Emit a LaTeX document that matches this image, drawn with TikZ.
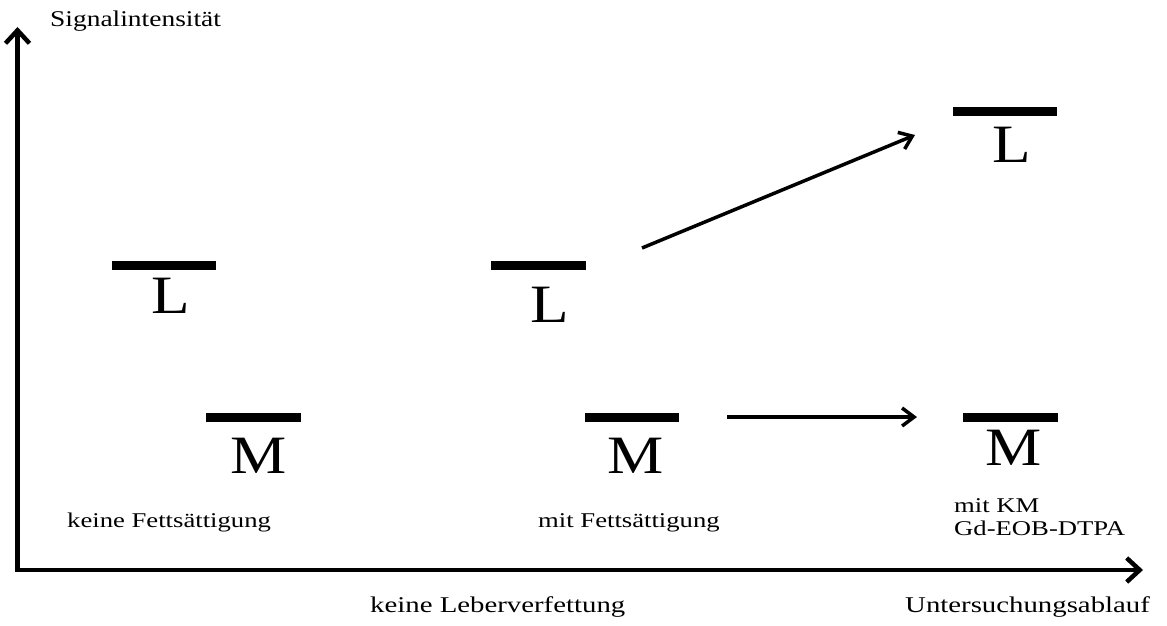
\documentclass[tikz,border=0pt]{standalone}
\usepackage{fontspec}
\setmainfont{Liberation Serif}
\usetikzlibrary{arrows.meta}
\newcommand{\wide}[2]{\scalebox{#1}[1]{#2}}
\begin{document}
\begin{tikzpicture}[x=1pt,y=-1pt,
  axis/.style={line width=4.5pt, line join=miter,
    {Straight Barb[length=13pt,width=24pt]}-{Straight Barb[length=13pt,width=24pt]}},
  conn/.style={line width=3.5pt, -{Straight Barb[length=12pt,width=18pt]}},
  bar/.style={fill=black, inner sep=0pt, minimum height=9pt},
  big/.style={font=\fontsize{54}{60}\selectfont, inner sep=0pt, anchor=base},
  small/.style={font=\fontsize{21}{24}\selectfont, inner sep=0pt, anchor=base west},
  axlabel/.style={font=\fontsize{22.5}{26}\selectfont, inner sep=0pt, anchor=base west}]
\useasboundingbox (0,0) rectangle (1167,625);
% axes
\coordinate (ytop) at (17.5,27);
\coordinate (origin) at (17.5,570);
\coordinate (xend) at (1143,570);
\draw[axis] (ytop) -- (origin) -- (xend);
\node[axlabel] (ylab) at (50,26) {\wide{1.22}{Signalintensität}};
\node[axlabel] (xlab1) at (370,612) {\wide{1.28}{keine Leberverfettung}};
\node[axlabel] (xlab2) at (905,612) {\wide{1.28}{Untersuchungsablauf}};
% bars
\node[bar, minimum width=104pt] (barL1) at (164,265) {};
\node[bar, minimum width=95pt] (barM1) at (253.5,417) {};
\node[bar, minimum width=95pt] (barL2) at (538.5,265) {};
\node[bar, minimum width=94pt] (barM2) at (632,417) {};
\node[bar, minimum width=104pt] (barL3) at (1005,111.5) {};
\node[bar, minimum width=95pt] (barM3) at (1010.5,417) {};
% letters
\node[big] (L1) at (171,313) {\wide{1.17}{L}};
\node[big] (M1) at (259,473) {\wide{1.17}{M}};
\node[big] (L2) at (550,322) {\wide{1.17}{L}};
\node[big] (M2) at (636,473) {\wide{1.17}{M}};
\node[big] (L3) at (1012,162) {\wide{1.17}{L}};
\node[big] (M3) at (1014,465) {\wide{1.17}{M}};
% captions
\node[small] (c1) at (67,527) {\wide{1.27}{keine Fettsättigung}};
\node[small] (c2) at (538,527) {\wide{1.27}{mit Fettsättigung}};
\node[small] (c3a) at (954,512) {\wide{1.27}{mit KM}};
\node[small] (c3b) at (954,535) {\wide{1.27}{Gd-EOB-DTPA}};
% connectors
\coordinate (a1s) at (642,248);
\coordinate (a1e) at (915,135);
\coordinate (a2s) at (727,417);
\coordinate (a2e) at (917,417);
\draw[conn] (a1s) -- (a1e);
\draw[conn] (a2s) -- (a2e);
\end{tikzpicture}
\end{document}
